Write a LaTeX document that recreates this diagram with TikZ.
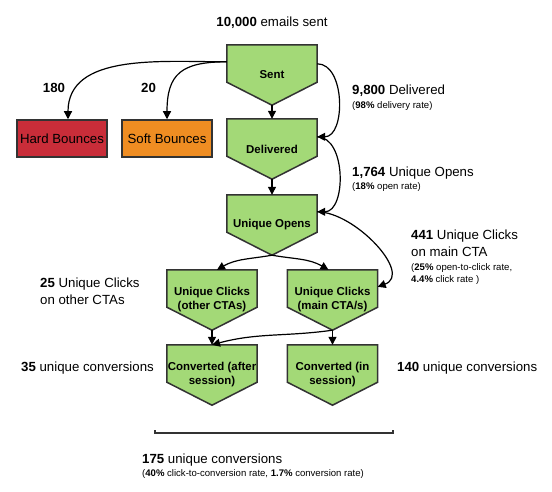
\documentclass[tikz,border=0pt]{standalone}
\usepackage{fontspec}
\setmainfont{Liberation Sans}
\usetikzlibrary{arrows.meta,calc,backgrounds}
\definecolor{flowgreen}{HTML}{A3D977}
\definecolor{flowred}{HTML}{C92D39}
\definecolor{floworange}{HTML}{EF8D22}
\definecolor{flowline}{HTML}{333333}
\newcommand\fbig{\fontsize{13.3}{17}\selectfont}
\newcommand\fsmall{\fontsize{9.6}{12}\selectfont}
\newcommand\fnode{\fontsize{11.5}{14}\selectfont\bfseries}
\begin{document}
\begin{tikzpicture}[x=1bp,y=1bp,
  flow/.style={minimum width=90bp, minimum height=60bp, inner sep=0pt, align=center, font=\fnode},
  shapebg/.style={fill=flowgreen, draw=flowline, line width=1.5bp, line join=miter},
  bounce/.style={minimum width=90bp, minimum height=37bp, inner sep=0pt, draw=flowline, line width=1.5bp, font=\fbig},
  conn/.style={draw=black, line width=1.2bp, -{Triangle[length=8bp,width=8bp]}},
  lbl/.style={anchor=base west, inner sep=0pt, font=\fbig},
  slbl/.style={anchor=base west, inner sep=0pt, font=\fsmall}]
\useasboundingbox (0,0) rectangle (552,-492);

% flow nodes
\node[flow] (sent)  at (272,-75)    {Sent};
\node[flow] (deliv) at (272,-149)   {Delivered};
\node[flow] (opens) at (272,-225)   {Unique Opens};
\node[flow] (uco)   at (212,-300)   {Unique Clicks\\(other CTAs)};
\node[flow] (ucm)   at (332.5,-300) {Unique Clicks\\(main CTA/s)};
\node[flow] (conva) at (212,-375)   {Converted (after\\session)};
\node[flow] (convi) at (332.5,-375) {Converted (in\\session)};

\begin{scope}[on background layer]
  \foreach \n in {sent,deliv,opens,uco,ucm,conva,convi}
    \path[shapebg] (\n.north west) -- (\n.north east) -- ($(\n.south east)+(0,23)$)
      -- (\n.south) -- ($(\n.south west)+(0,23)$) -- cycle;
\end{scope}

% bounce boxes
\node[bounce, fill=flowred]    (hard) at (62,-138.5)  {Hard Bounces};
\node[bounce, fill=floworange] (soft) at (167,-138.5) {Soft Bounces};

% connectors
\draw[conn] ($(sent.north west)+(0,-17)$) to[out=180,in=90] ($(hard.north)+(6,0)$);
\draw[conn] ($(sent.north west)+(0,-17)$) to[out=180,in=90,looseness=1.4] (soft.north);
\draw[conn] (sent.south) -- (deliv.north);
\draw[conn] ($(sent.north east)+(0,-19)$) to[out=0,in=0] ($(deliv.north east)+(0,-18)$);
\draw[conn] ($(deliv.north east)+(0,-18)$) to[out=0,in=0] ($(opens.north east)+(0,-17)$);
\draw[conn] (deliv.south) -- (opens.north);
\draw[conn] (opens.south) to[out=190,in=30] ($(uco.north)+(5,0)$);
\draw[conn] (opens.south) to[out=-10,in=150] ($(ucm.north)+(-4,0)$);
\draw[conn] ($(opens.north east)+(0,-17)$) to[out=0,in=20] ($(ucm.north east)+(0,-17)$);
\draw[conn] (uco.south) -- (conva.north);
\draw[conn] (ucm.south) -- (convi.north);
\draw[conn] (ucm.south) to[out=188,in=15] (conva.north);

% labels
\node[lbl, anchor=base] (sentlbl) at (272,-26.7) {\textbf{10,000} emails sent};
\node[lbl, anchor=base] (hardlbl) at (54,-92.7) {\textbf{180}};
\node[lbl, anchor=base] (softlbl) at (148.5,-92.7) {\textbf{20}};
\node[lbl]  (delivlbl)  at (352,-94.7)  {\textbf{9,800} Delivered};
\node[slbl] (delivrate) at (352,-108.4) {(\textbf{98\%} delivery rate)};
\node[lbl]  (openslbl)  at (352,-176.7) {\textbf{1,764} Unique Opens};
\node[slbl] (opensrate) at (352,-189.4) {(\textbf{18\%} open rate)};
\node[lbl]  (ucmlbla)   at (411,-239.7) {\textbf{441} Unique Clicks};
\node[lbl]  (ucmlblb)   at (411,-256.7) {on main CTA};
\node[slbl] (ucmratea)  at (411,-270.4) {(\textbf{25\%} open-to-click rate,};
\node[slbl] (ucmrateb)  at (411,-282.4) {\textbf{4.4\%} click rate )};
\node[lbl]  (ucolbla)   at (40,-287.7)  {\textbf{25} Unique Clicks};
\node[lbl]  (ucolblb)   at (40,-304.7)  {on other CTAs};
\node[lbl]  (convalbl)  at (21,-371.7)  {\textbf{35} unique conversions};
\node[lbl]  (convilbl)  at (397,-371.7) {\textbf{140} unique conversions};
\node[lbl]  (totallbl)  at (142,-463.7) {\textbf{175} unique conversions};
\node[slbl] (totalrate) at (142,-476.4) {(\textbf{40\%} click-to-conversion rate, \textbf{1.7\%} conversion rate)};

% bracket
\coordinate (brL) at (155,-433);
\coordinate (brR) at (393,-433);
\draw[flowline, line width=1.5bp] ($(brL)+(0,3)$) -- (brL) -- (brR) -- ($(brR)+(0,3)$);
\end{tikzpicture}
\end{document}
